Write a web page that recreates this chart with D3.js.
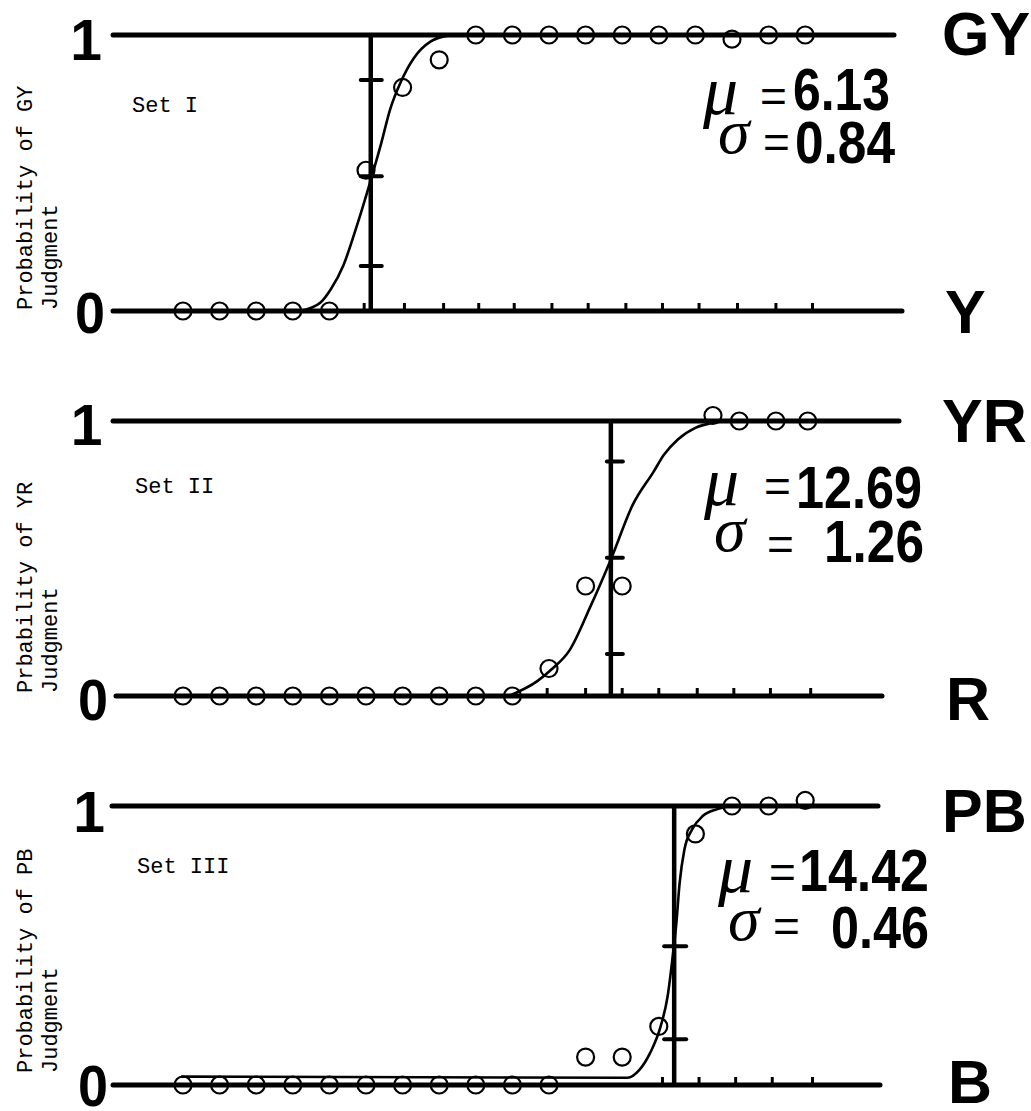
<!DOCTYPE html>
<html><head><meta charset="utf-8">
<script src="https://cdn.jsdelivr.net/npm/d3@7"></script>
<style>
html,body{margin:0;padding:0;background:#fff;}
svg{display:block;}
</style></head><body>
<svg id="chart" width="1031" height="1111"></svg>
<script>
// ---------------- data ----------------
const setNames = ["Set I", "Set II", "Set III"];
const yTitleLines = [
  ["Probability of GY", "Judgment"],
  ["Prbability of YR", "Judgment"],
  ["Probability of PB", "Judgment"]
];
const upperCategories = ["GY", "YR", "PB"];
const lowerCategories = ["Y", "R", "B"];
const probTickLabels = ["0", "1"];
const muValues = [6.13, 12.69, 14.42];
const sigmaValues = [0.84, 1.26, 0.46];
const stimulusDomain = [1, 18];

// observed proportions (circles)
const set1Stimulus = [1,2,3,4,5,6,7,8,9,10,11,12,13,14,15,16,17,18];
const set1Prob     = [0,0,0,0,0,0.51,0.81,0.91,1,1,1,1,1,1,1,0.985,1,1];
const set2Stimulus = [1,2,3,4,5,6,7,8,9,10,11,12,13,15.48,16.2,17.2,18.07];
const set2Prob     = [0,0,0,0,0,0,0,0,0,0,0.10,0.40,0.40,1.02,1.0,1.0,1.0];
const set3Stimulus = [1,2,3,4,5,6,7,8,9,10,11,12,13,14,15,16,17,18];
const set3Prob     = [0,0,0,0,0,0,0,0,0,0,0,0.10,0.10,0.21,0.90,1.0,1.0,1.02];

// fitted ogive, as drawn
const set1CurveStim = [4.2,4.75,5.03,5.39,5.76,6.12,6.40,6.67,6.95,7.31,7.77,8.13,8.45];
const set1CurveProb = [0,0.03,0.077,0.168,0.313,0.47,0.60,0.735,0.83,0.917,0.977,0.995,1.0];
const set2CurveStim = [9.9,10.69,11.08,11.56,12.13,12.71,13.28,13.86,14.14,14.52,15.0,15.49,15.96];
const set2CurveProb = [0,0.055,0.098,0.166,0.325,0.503,0.693,0.816,0.877,0.933,0.975,0.994,1.0];
const set3CurveStim = [0.95,13.14,13.47,13.76,14.05,14.24,14.38,14.48,14.57,14.70,14.91,15.20,15.58,15.96];
const set3CurveProb = [0.03,0.026,0.054,0.114,0.21,0.317,0.461,0.581,0.725,0.844,0.916,0.964,0.988,1.0];

// tick marks on the stimulus axis and on the mean line
const set1AxisTicks = [5.95,7.05,8.12,9.08,10.05,11.08,12.07,13.1,14.1,15.1,16.15,17.2,18.2];
const set2AxisTicks = [10.95,12.0,13.0,14.0,15.05,16.05,17.05,18.15];
const set3AxisTicks = [14.1,15.1,16.1,17.1,18.2];
const set1MuTicks = [0.163,0.488,0.837];
const set2MuTicks = [0.153,0.503,0.853];
const set3MuTicks = [0.164,0.497];

// ---------------- layout ----------------
const layout = [
  {yTop:35, yBot:311, topX:[113,894], botX:[113,902],
   l1:[86,60], l0:[90,333], up:[942,55], low:[945,333], set:[132,112], titleY:310,
   mu:[703,114], eq1:[760,112], n1:[793,110,97], sg:[718,153], eq2:[763,158], n2:[795,163,100], tk:[-10,11]},
  {yTop:421, yBot:696, topX:[113,899], botX:[116,882],
   l1:[86.5,445], l0:[93,720], up:[942,442], low:[946,720], set:[135,493], titleY:693,
   mu:[704,505], eq1:[764,502], n1:[796,508,126], sg:[714,551], eq2:[767,560], n2:[824,562,100], tk:[-4,12]},
  {yTop:806, yBot:1085, topX:[112,878], botX:[113,880],
   l1:[89,832], l0:[93,1106], up:[942,832], low:[948,1103], set:[137,873], titleY:1073,
   mu:[718,892], eq1:[769,888], n1:[799,891,130], sg:[728,940], eq2:[773,942], n2:[831,948,98], tk:[-10,12]}
];

const pointSets = [[set1Stimulus,set1Prob],[set2Stimulus,set2Prob],[set3Stimulus,set3Prob]];
const curveSets = [[set1CurveStim,set1CurveProb],[set2CurveStim,set2CurveProb],[set3CurveStim,set3CurveProb]];
const axisTickSets = [set1AxisTicks,set2AxisTicks,set3AxisTicks];
const muTickSets = [set1MuTicks,set2MuTicks,set3MuTicks];

const SANS = "'Liberation Sans', Arial, Helvetica, sans-serif";
const MONO = "'Liberation Mono', 'Courier New', monospace";
const SERIF = "'Liberation Serif', 'Times New Roman', serif";

const svg = d3.select("#chart");
const x = d3.scaleLinear().domain(stimulusDomain).range([183, 805.2]);

layout.forEach((L, i) => {
  const y = d3.scaleLinear().domain([0, 1]).range([L.yBot, L.yTop]);
  const g = svg.append("g");

  // horizontal bounding lines at p=1 and p=0
  g.append("line").attr("x1", L.topX[0]).attr("x2", L.topX[1])
    .attr("y1", y(1)).attr("y2", y(1)).attr("stroke", "#000").attr("stroke-width", 5).attr("stroke-linecap", "round");
  g.append("line").attr("x1", L.botX[0]).attr("x2", L.botX[1])
    .attr("y1", y(0)).attr("y2", y(0)).attr("stroke", "#000").attr("stroke-width", 5).attr("stroke-linecap", "round");

  // stimulus ticks
  g.selectAll("line.axt").data(axisTickSets[i]).join("line").attr("class", "axt")
    .attr("x1", d => x(d)).attr("x2", d => x(d))
    .attr("y1", y(0)).attr("y2", y(0) - 8)
    .attr("stroke", "#000").attr("stroke-width", 3);

  // mean line and sigma ticks
  const mx = x(muValues[i]);
  g.append("line").attr("x1", mx).attr("x2", mx).attr("y1", y(0)).attr("y2", y(1))
    .attr("stroke", "#000").attr("stroke-width", 4.5);
  g.selectAll("line.mut").data(muTickSets[i]).join("line").attr("class", "mut")
    .attr("x1", mx + L.tk[0]).attr("x2", mx + L.tk[1])
    .attr("y1", d => y(d)).attr("y2", d => y(d))
    .attr("stroke", "#000").attr("stroke-width", 4).attr("stroke-linecap", "round");

  // curve
  const cs = curveSets[i];
  const cdata = cs[0].map((s, j) => [s, cs[1][j]]);
  g.append("path").datum(cdata)
    .attr("d", d3.line().x(d => x(d[0])).y(d => y(d[1])).curve(d3.curveMonotoneX))
    .attr("fill", "none").attr("stroke", "#000").attr("stroke-width", 2.6);

  // observed points
  const ps = pointSets[i];
  const pdata = ps[0].map((s, j) => [s, ps[1][j]]);
  g.selectAll("circle").data(pdata).join("circle")
    .attr("cx", d => x(d[0])).attr("cy", d => y(d[1])).attr("r", 8.5)
    .attr("fill", "none").attr("stroke", "#000").attr("stroke-width", 2.2);

  // probability labels 1 / 0
  g.append("text").attr("x", L.l1[0]).attr("y", L.l1[1]).attr("text-anchor", "middle")
    .attr("font-family", SANS).attr("font-weight", "bold").attr("font-size", 57)
    .text(probTickLabels[1]);
  g.append("text").attr("x", L.l0[0] - 15).attr("y", L.l0[1])
    .attr("font-family", SANS).attr("font-weight", "bold").attr("font-size", 57)
    .attr("textLength", 30).attr("lengthAdjust", "spacingAndGlyphs")
    .text(probTickLabels[0]);

  // category labels on right
  g.append("text").attr("x", L.up[0]).attr("y", L.up[1])
    .attr("font-family", SANS).attr("font-weight", "bold").attr("font-size", 61)
    .text(upperCategories[i]);
  g.append("text").attr("x", L.low[0]).attr("y", L.low[1])
    .attr("font-family", SANS).attr("font-weight", "bold").attr("font-size", 61)
    .text(lowerCategories[i]);

  // set name
  g.append("text").attr("x", L.set[0]).attr("y", L.set[1])
    .attr("font-family", MONO).attr("font-size", 22).text(setNames[i]);

  // rotated y titles
  const tx = [32, 57];
  yTitleLines[i].forEach((t, k) => {
    g.append("text").attr("transform", `translate(${tx[k]},${L.titleY}) rotate(-90)`)
      .attr("font-family", MONO).attr("font-size", 22).text(t);
  });

  // mu / sigma annotation
  g.append("text").attr("x", L.mu[0]).attr("y", L.mu[1])
    .attr("font-family", SERIF).attr("font-style", "italic").attr("font-size", 70).text("\u03BC");
  g.append("text").attr("x", L.eq1[0]).attr("y", L.eq1[1])
    .attr("font-family", SANS).attr("font-size", 46).text("=");
  g.append("text").attr("x", L.n1[0]).attr("y", L.n1[1])
    .attr("font-family", SANS).attr("font-weight", "bold").attr("font-size", 60)
    .attr("textLength", L.n1[2]).attr("lengthAdjust", "spacingAndGlyphs")
    .text(muValues[i].toFixed(2));
  g.append("text").attr("x", L.sg[0]).attr("y", L.sg[1])
    .attr("font-family", SERIF).attr("font-style", "italic").attr("font-size", 64).text("\u03C3");
  g.append("text").attr("x", L.eq2[0]).attr("y", L.eq2[1])
    .attr("font-family", SANS).attr("font-size", 46).text("=");
  g.append("text").attr("x", L.n2[0]).attr("y", L.n2[1])
    .attr("font-family", SANS).attr("font-weight", "bold").attr("font-size", 60)
    .attr("textLength", L.n2[2]).attr("lengthAdjust", "spacingAndGlyphs")
    .text(sigmaValues[i].toFixed(2));
});
</script>
</body></html>
